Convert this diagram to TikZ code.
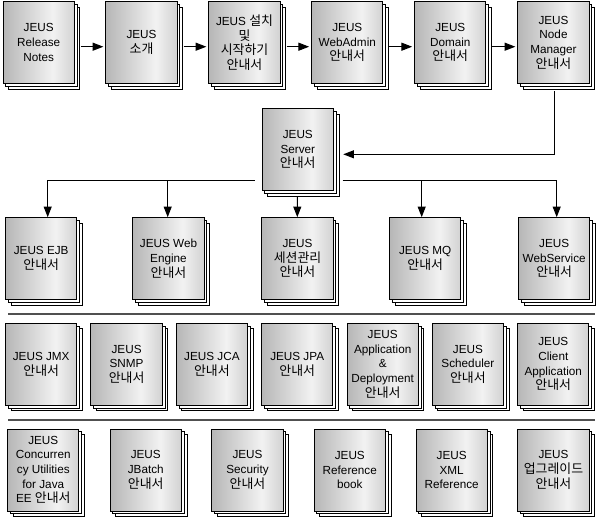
\documentclass[tikz,border=0pt]{standalone}
\usepackage{fontspec}
\setmainfont{Liberation Sans}
\newfontfamily\krfont[Scale=1.1]{Noto Sans CJK KR}
\usetikzlibrary{arrows.meta,shadows,calc}
\newcommand\ko[1]{{\krfont #1}}
\definecolor{dl}{RGB}{140,140,140}
\definecolor{dm}{RGB}{242,242,242}
\definecolor{dr}{RGB}{155,155,155}
\definecolor{sepc}{RGB}{80,80,80}
\pgfdeclarehorizontalshading{docshade}{100bp}{color(0bp)=(dl); color(60bp)=(dm); color(100bp)=(dr)}
\begin{document}
\begin{tikzpicture}[x=0.75pt,y=-0.75pt,
  doc/.style={draw=black, line width=0.75pt, shade, shading=docshade,
    minimum width=53.5pt, minimum height=61.5pt, inner sep=0pt, align=center,
    font=\fontsize{8.8}{11}\selectfont,
    general shadow={fill=white, draw=black, line width=0.75pt, shadow xshift=4.2pt, shadow yshift=-4.2pt},
    general shadow={fill=white, draw=black, line width=0.75pt, shadow xshift=2.1pt, shadow yshift=-2.1pt}},
  arr/.style={-{Triangle[length=8pt,width=6pt]}, line width=0.75pt, draw=black},
  sep/.style={line width=1.1pt, draw=sepc}]
\useasboundingbox (0,0) rectangle (596,519);
% row 1
\node[doc] (n1) at (38.7,42.5) {JEUS\\Release\\Notes};
\node[doc] (n2) at (141.5,42.5) {JEUS\\\ko{소개}};
\node[doc] (n3) at (244.5,42.5) {JEUS \ko{설치}\\\ko{및}\\\ko{시작하기}\\\ko{안내서}};
\node[doc] (n4) at (347.3,42.5) {JEUS\\WebAdmin\\\ko{안내서}};
\node[doc] (n5) at (450.3,42.5) {JEUS\\Domain\\\ko{안내서}};
\node[doc] (n6) at (553.5,42.5) {JEUS\\Node\\Manager\\\ko{안내서}};
% server
\node[doc] (srv) at (297.8,149.7) {JEUS\\Server\\\ko{안내서}};
% row 2
\node[doc] (ejb) at (41.2,258.7) {JEUS EJB\\\ko{안내서}};
\node[doc] (web) at (168.5,258.7) {JEUS Web\\Engine\\\ko{안내서}};
\node[doc] (sess) at (297.5,258.7) {JEUS\\\ko{세션관리}\\\ko{안내서}};
\node[doc] (mq) at (425.2,258.7) {JEUS MQ\\\ko{안내서}};
\node[doc] (ws) at (554.2,258.7) {JEUS\\WebService\\\ko{안내서}};
% row 3
\node[doc] (jmx) at (41.2,364.3) {JEUS JMX\\\ko{안내서}};
\node[doc] (snmp) at (126.6,364.3) {JEUS\\SNMP\\\ko{안내서}};
\node[doc] (jca) at (211.9,364.3) {JEUS JCA\\\ko{안내서}};
\node[doc] (jpa) at (297.2,364.3) {JEUS JPA\\\ko{안내서}};
\node[doc] (app) at (382.7,364.3) {JEUS\\Application\\\&\\Deployment\\\ko{안내서}};
\node[doc] (sch) at (467.9,364.3) {JEUS\\Scheduler\\\ko{안내서}};
\node[doc] (cli) at (553.3,364.3) {JEUS\\Client\\Application\\\ko{안내서}};
% row 4
\node[doc] (conc) at (43.3,470) {JEUS\\Concurren\\cy Utilities\\for Java\\EE \ko{안내서}};
\node[doc] (jb) at (145.8,470) {JEUS\\JBatch\\\ko{안내서}};
\node[doc] (sec) at (247.5,470) {JEUS\\Security\\\ko{안내서}};
\node[doc] (ref) at (349.8,470) {JEUS\\Reference\\book};
\node[doc] (xml) at (451.7,470) {JEUS\\XML\\Reference};
\node[doc] (upg) at (553.5,470) {JEUS\\\ko{업그레이드}\\\ko{안내서}};
% row 1 arrows
\draw[arr] ([shift={(6,4.2)}]n1.east) -- ([shift={(-2,4.2)}]n2.west);
\draw[arr] ([shift={(6,4.2)}]n2.east) -- ([shift={(-2,4.2)}]n3.west);
\draw[arr] ([shift={(6,4.2)}]n3.east) -- ([shift={(-2,4.2)}]n4.west);
\draw[arr] ([shift={(6,4.2)}]n4.east) -- ([shift={(-2,4.2)}]n5.west);
\draw[arr] ([shift={(6,4.2)}]n5.east) -- ([shift={(-2,4.2)}]n6.west);
% node manager to server
\draw[arr] ([shift={(0.5,7)}]n6.south) |- ([shift={(9.3,4.6)}]srv.east);
% server bus
\coordinate (busL) at ([shift={(-6.7,30.3)}]srv.west);
\coordinate (busR) at ([shift={(8.7,30.3)}]srv.east);
\coordinate (aE) at ([shift={(6.5,0)}]ejb.north);
\coordinate (aW) at ([shift={(-0.8,0)}]web.north);
\coordinate (aM) at ([shift={(-3.5,0)}]mq.north);
\coordinate (aS) at ([shift={(2.5,0)}]ws.north);
\draw[arr] (busL) -| (aE);
\draw[arr] (aW |- busL) -- (aW);
\draw[arr] (busR) -| (aS);
\draw[arr] (aM |- busR) -- (aM);
\draw[arr] ([shift={(-0.5,6)}]srv.south) -- ([shift={(-0.2,0)}]sess.north);
% separators
\coordinate (s1a) at (8,314); \coordinate (s1b) at (595,314);
\coordinate (s2a) at (8,420); \coordinate (s2b) at (595,420);
\draw[sep] (s1a) -- (s1b);
\draw[sep] (s2a) -- (s2b);
\end{tikzpicture}
\end{document}
